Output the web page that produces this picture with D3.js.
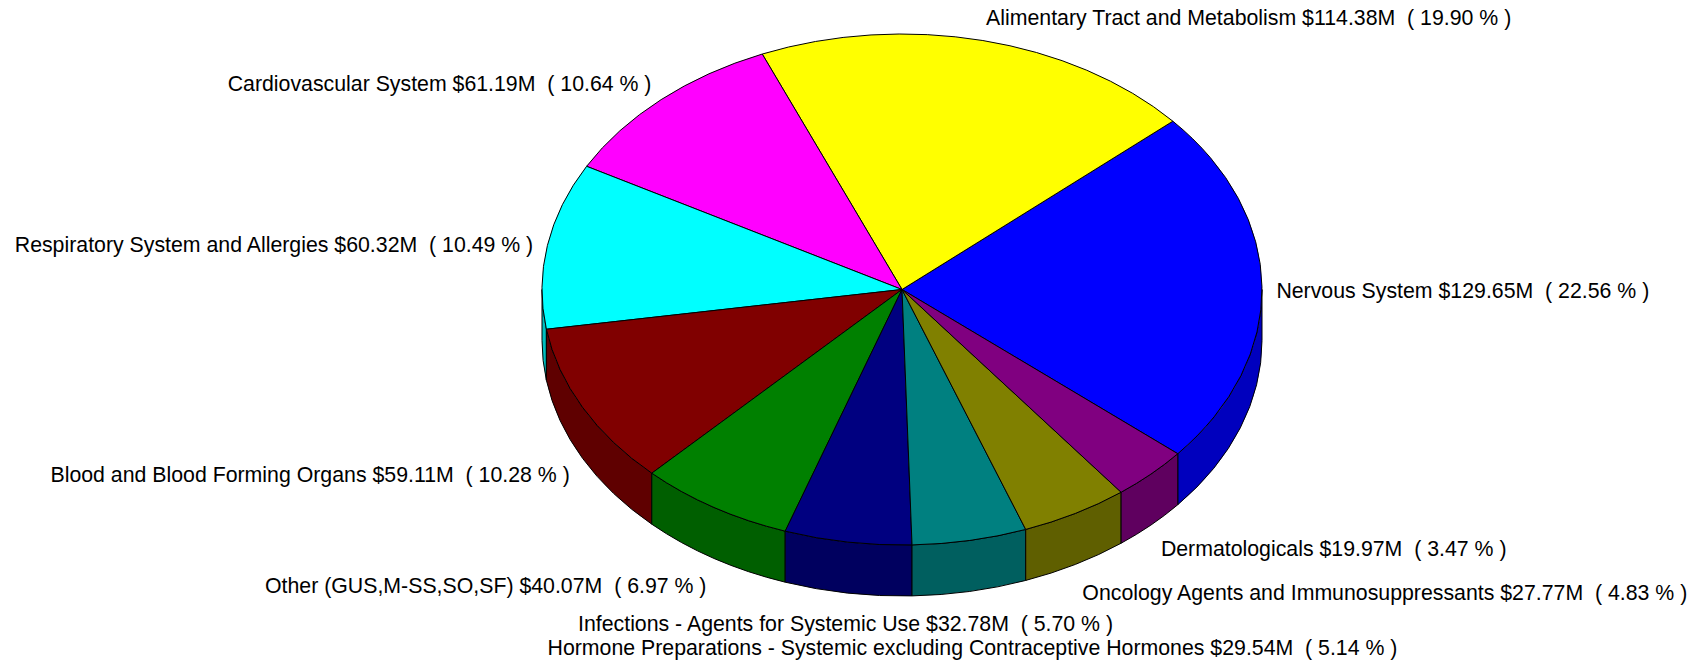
<!DOCTYPE html>
<html lang="en">
<head>
    <meta charset="UTF-8">
    <title>3D Pie</title>
    <script src="https://cdn.jsdelivr.net/npm/d3@7"></script>
    <style>
        body{ margin:0; background:#fff; }
        .label{ font:21.3px "Liberation Sans", Arial, sans-serif; fill:#000; white-space:pre; }
        .face, .side{ stroke:#000; stroke-width:1; }
    </style>
</head>
<body>
<script>
    var width = 1692,
        height = 661;

    // data
    var categories = ['Nervous System', 'Alimentary Tract and Metabolism', 'Cardiovascular System',
        'Respiratory System and Allergies', 'Blood and Blood Forming Organs', 'Other (GUS,M-SS,SO,SF)',
        'Infections - Agents for Systemic Use', 'Hormone Preparations - Systemic excluding Contraceptive Hormones',
        'Oncology Agents and Immunosuppressants', 'Dermatologicals'];
    var sales = [129.65, 114.38, 61.19, 60.32, 59.11, 40.07, 32.78, 29.54, 27.77, 19.97];
    var percents = ['22.56', '19.90', '10.64', '10.49', '10.28', '6.97', '5.70', '5.14', '4.83', '3.47'];
    var colors = ['#0000ff', '#ffff00', '#ff00ff', '#00ffff', '#800000', '#008000', '#000080', '#008080', '#808000', '#800080'];

    var cx = 902, cy = 289.5, rx = 360, ry = 255.5, depth = 51;
    var startDeg = -40; // first slice starts below the right edge, goes counter-clockwise

    var data = categories.map(function(c, i){
        return {name: c, value: sales[i], pct: percents[i], color: colors[i]};
    });

    // d3 angles: clockwise from 12 o'clock; run them backwards for counter-clockwise
    var start = (90 - startDeg) * Math.PI / 180;
    var pie = d3.pie().sort(null).value(function(d){ return d.value; })
        .startAngle(start).endAngle(start - 2 * Math.PI);
    var arcs = pie(data).map(function(a){
        // convert to math angles (counter-clockwise from 3 o'clock)
        return {data: a.data, p0: Math.PI / 2 - a.startAngle, p1: Math.PI / 2 - a.endAngle};
    });

    function pt(p, dy){ return [cx + rx * Math.cos(p), cy - ry * Math.sin(p) + (dy || 0)]; }

    var svg = d3.select('body').append('svg').attr('width', width).attr('height', height);

    // sides: only the front half (angles pi..2pi, or -pi..0) is visible
    var sides = [];
    arcs.forEach(function(a){
        [-1, 1].forEach(function(k){
            var lo = Math.max(a.p0, k * Math.PI), hi = Math.min(a.p1, k * Math.PI + Math.PI);
            if (hi - lo > 1e-6) sides.push({a: a, lo: lo, hi: hi});
        });
    });

    svg.selectAll('.side').data(sides).enter().append('path')
        .attr('class', 'side')
        .attr('fill', function(d){ return d3.rgb(d.a.data.color).darker(0.83); })
        .attr('d', function(d){
            var s = pt(d.lo), e = pt(d.hi), e2 = pt(d.hi, depth), s2 = pt(d.lo, depth);
            return 'M' + s + 'A' + rx + ',' + ry + ' 0 0 0 ' + e +
                'L' + e2 + 'A' + rx + ',' + ry + ' 0 0 1 ' + s2 + 'Z';
        });

    // top faces
    svg.selectAll('.face').data(arcs).enter().append('path')
        .attr('class', 'face')
        .attr('fill', function(d){ return d.data.color; })
        .attr('d', function(d){
            var s = pt(d.p0), e = pt(d.p1);
            var large = (d.p1 - d.p0) > Math.PI ? 1 : 0;
            return 'M' + cx + ',' + cy + 'L' + s + 'A' + rx + ',' + ry + ' 0 ' + large + ' 0 ' + e + 'Z';
        });

    // labels
    var kx = 1.04, ky = 1.06, placed = [];
    arcs.forEach(function(a){
        var m = (a.p0 + a.p1) / 2, c = Math.cos(m), s = Math.sin(m);
        var x = cx + rx * kx * c,
            y = cy - ry * ky * s + (s < 0 ? depth : 0) + (4 - 11 * s) * 1.08;
        var anchor = s >= 0 ? (c >= 0 ? 'start' : 'end') : (Math.abs(c) < 0.3 ? 'middle' : (c > 0 ? 'start' : 'end'));
        var t = svg.append('text').attr('class', 'label')
            .attr('x', x).attr('y', y)
            .attr('dominant-baseline', 'central')
            .attr('text-anchor', anchor)
            .text(a.data.name + ' $' + a.data.value.toFixed(2) + 'M  ( ' + a.data.pct + ' % )');
        // push overlapping labels away from the pie
        var b = t.node().getBBox();
        placed.forEach(function(p){
            if (b.x < p.x + p.width && p.x < b.x + b.width && b.y < p.y + p.height && p.y < b.y + b.height) {
                y += s < 0 ? (p.y + p.height - b.y) : (p.y - b.y - b.height);
                t.attr('y', y);
                b = t.node().getBBox();
            }
        });
        placed.push(b);
    });
</script>
</body>
</html>
